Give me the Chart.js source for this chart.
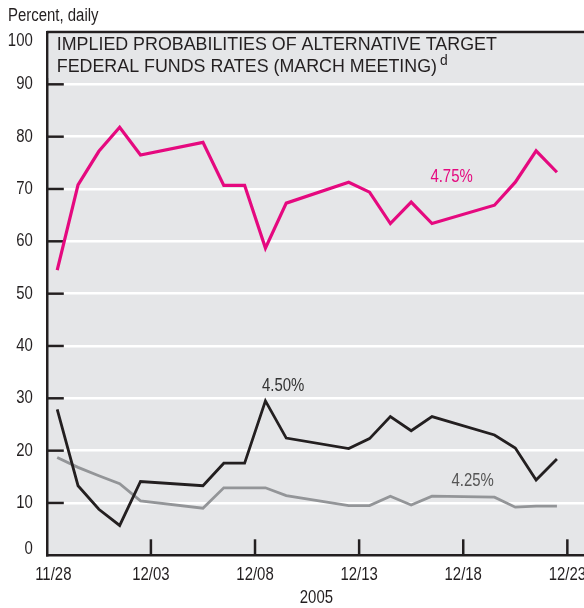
<!DOCTYPE html>
<html>
<head>
<meta charset="utf-8">
<script src="https://cdn.jsdelivr.net/npm/chart.js@4.4.1/dist/chart.umd.min.js"></script>
<style>
html, body { margin: 0; padding: 0; background: #fff; }
</style>
</head>
<body>
<canvas id="grafico" width="584" height="608"></canvas>
<script>
// dias uteis, novembro-dezembro 2005
const dias = ["11/28","11/29","11/30","12/01","12/02","12/05","12/06","12/07","12/08","12/09",
              "12/12","12/13","12/14","12/15","12/16","12/19","12/20","12/21","12/22"];
const taxa475 = [54.5,70.8,77.2,81.8,76.5,78.9,70.7,70.7,58.7,67.3,71.3,69.4,63.4,67.5,63.4,66.9,71.3,77.3,73.2];
const taxa450 = [27.9,13.3,8.8,5.7,14.1,13.3,17.6,17.6,29.5,22.4,20.4,22.3,26.5,23.8,26.5,23.0,20.5,14.4,18.4];
const taxa425 = [18.7,16.8,15.2,13.7,10.4,9.0,12.9,12.9,12.9,11.4,9.5,9.5,11.3,9.6,11.3,11.1,9.2,9.4,9.4];
const rotulosX = ["11/28","12/03","12/08","12/13","12/18","12/23"];
const rotulosY = [0,10,20,30,40,50,60,70,80,90,100];

const FONTE = '"Liberation Sans", Arial, sans-serif';
const ESTREITO = 0.83; // imita Helvetica condensada
const ESCURO = '#231f20';
const ROSA = '#e5097f';
const CINZA = '#939598';

// dia contado a partir de 11/28, ponto no meio do dia
function diaDe(s) {
    const [m, d] = s.split('/').map(Number);
    return (Date.UTC(2005, m - 1, d) - Date.UTC(2005, 10, 28)) / 86400000 + 0.5;
}
function serie(vals) {
    return vals.map((v, i) => ({ x: diaDe(dias[i]), y: v }));
}

// texto estreitado horizontalmente
function texto(ctx, s, x, y, align, cor, tam, fator) {
    fator = fator || ESTREITO;
    ctx.save();
    ctx.font = tam + 'px ' + FONTE;
    ctx.fillStyle = cor;
    ctx.textAlign = align;
    ctx.textBaseline = 'middle';
    ctx.translate(x, y);
    ctx.scale(fator, 1);
    ctx.fillText(s, 0, 0);
    ctx.restore();
}

const extras = {
    id: 'extras',
    beforeDraw(chart) {
        const { ctx, chartArea: a } = chart;
        ctx.save();
        ctx.fillStyle = '#e5e6e8';
        ctx.fillRect(a.left, a.top, a.right - a.left, a.bottom - a.top);
        ctx.restore();
    },
    beforeDatasetsDraw(chart) {
        const { ctx, chartArea: a, scales } = chart;
        ctx.save();
        ctx.strokeStyle = ESCURO;
        ctx.lineWidth = 2.5;
        // marcas internas do eixo y
        rotulosY.forEach(v => {
            if (v === 0 || v === 100) return;
            const y = scales.y.getPixelForValue(v);
            ctx.beginPath(); ctx.moveTo(a.left, y); ctx.lineTo(a.left + 17, y); ctx.stroke();
        });
        // marcas internas do eixo x
        rotulosX.forEach((_, i) => {
            if (i === 0) return;
            const x = scales.x.getPixelForValue(i * 5);
            ctx.beginPath(); ctx.moveTo(x, a.bottom); ctx.lineTo(x, a.bottom - 16); ctx.stroke();
        });
        // borda superior
        ctx.beginPath(); ctx.moveTo(a.left, a.top); ctx.lineTo(a.right, a.top); ctx.stroke();

        // titulo dentro do grafico
        ctx.fillStyle = '#e5e6e8';
        ctx.fillRect(a.left + 2, a.top + 2, 460, 44);
        ctx.font = '18px ' + FONTE;
        const l1 = 'IMPLIED PROBABILITIES OF ALTERNATIVE TARGET';
        const l2 = 'FEDERAL FUNDS RATES (MARCH MEETING)';
        const f = 440 / ctx.measureText(l1).width;
        const w2 = ctx.measureText(l2).width * f;
        texto(ctx, l1, a.left + 10, a.top + 13, 'left', ESCURO, 18, f);
        texto(ctx, l2, a.left + 10, a.top + 35, 'left', ESCURO, 18, f);
        texto(ctx, 'd', a.left + 10 + w2 + 3, a.top + 29, 'left', ESCURO, 14, f);
        ctx.restore();
    },
    afterDraw(chart) {
        const { ctx, chartArea: a, scales } = chart;
        texto(ctx, 'Percent, daily', 8, 16, 'left', ESCURO, 18);
        // rotulos dos eixos
        rotulosY.forEach(v => {
            let y = scales.y.getPixelForValue(v);
            y = Math.max(Math.min(y, a.bottom - 6), a.top + 9.5);
            texto(ctx, String(v), a.left - 14, y, 'right', ESCURO, 18);
        });
        rotulosX.forEach((s, i) => {
            const x = Math.max(scales.x.getPixelForValue(i * 5), a.left + 6.5);
            texto(ctx, s, x, 575, 'center', ESCURO, 18);
        });
        texto(ctx, '2005', (a.left + a.right) / 2 + 1, 598, 'center', ESCURO, 18);
        // rotulos das series
        texto(ctx, '4.75%', scales.x.getPixelForValue(19.44), scales.y.getPixelForValue(72.3), 'center', ROSA, 18);
        texto(ctx, '4.50%', scales.x.getPixelForValue(11.35), scales.y.getPixelForValue(32.4), 'center', '#333333', 18);
        texto(ctx, '4.25%', scales.x.getPixelForValue(20.45), scales.y.getPixelForValue(14.1), 'center', '#555555', 18);
    }
};

new Chart(document.getElementById('grafico'), {
    type: 'line',
    data: {
        datasets: [
            { label: '4.75%', data: serie(taxa475), borderColor: ROSA, borderWidth: 3.2 },
            { label: '4.50%', data: serie(taxa450), borderColor: ESCURO, borderWidth: 2.8 },
            { label: '4.25%', data: serie(taxa425), borderColor: CINZA, borderWidth: 2.8 }
        ]
    },
    options: {
        responsive: false,
        animation: false,
        events: [],
        layout: { padding: { top: 32, left: 0, right: 0, bottom: 0 } },
        elements: { point: { radius: 0 }, line: { tension: 0, borderJoinStyle: 'miter', borderCapStyle: 'butt' } },
        plugins: { legend: { display: false }, tooltip: { enabled: false } },
        scales: {
            x: {
                type: 'linear',
                min: 0,
                max: 25.8,
                afterBuildTicks(s) { s.ticks = rotulosX.map((_, i) => ({ value: i * 5 })); },
                afterFit(s) { s.height = 52.7; s.paddingLeft = 0; s.paddingRight = 0; },
                grid: { display: false },
                border: { display: true, color: ESCURO, width: 2.5 },
                ticks: { display: false }
            },
            y: {
                min: 0,
                max: 100,
                afterBuildTicks(s) { s.ticks = rotulosY.map(v => ({ value: v })); },
                afterFit(s) { s.width = 46.8; },
                grid: { color: '#ffffff', lineWidth: 2.5, drawTicks: false },
                border: { display: true, color: ESCURO, width: 2.5 },
                ticks: { display: false }
            }
        }
    },
    plugins: [extras]
});
</script>
</body>
</html>
